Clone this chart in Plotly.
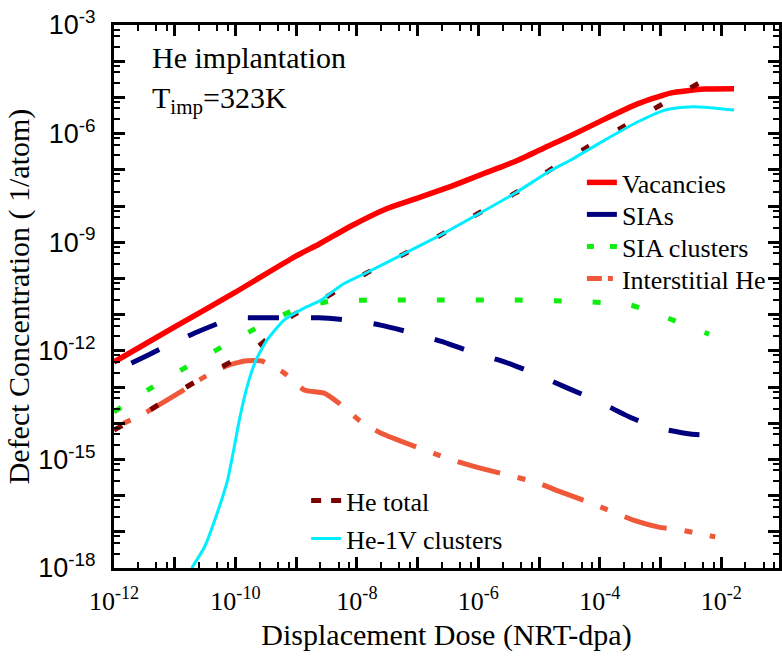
import plotly.graph_objects as go

# ---- data (log10 of dose in NRT-dpa, log10 of concentration in 1/atom) ----
vac_lx = [-12, -11, -10, -9, -8.62, -8.08, -7.53, -6.98, -6.44, -5.89, -5.34, -4.85, -4.48, -3.92, -3.38, -2.84, -2.28, -1.79]
vac_ly = [-12.31, -11.34, -10.38, -9.38, -9.05, -8.54, -8.09, -7.77, -7.45, -7.09, -6.73, -6.34, -6.06, -5.60, -5.18, -4.88, -4.77, -4.76]

sia_lx = [-12, -11.71, -11.20, -10.67, -10.21, -9.93, -9.66, -9.16, -8.62, -8.13, -7.61, -7.15, -6.57, -6.12, -5.56, -5.10, -4.53, -4.07, -3.51, -3.05, -2.51, -2.02]
sia_ly = [-12.56, -12.34, -11.92, -11.51, -11.20, -11.09, -11.09, -11.09, -11.09, -11.15, -11.29, -11.48, -11.76, -12.03, -12.31, -12.61, -13.03, -13.36, -13.83, -14.13, -14.30, -14.35]

siac_lx = [-12, -11.44, -10.84, -10.23, -9.62, -9.0, -8.41, -7.79, -6.57, -5.36, -4.74, -4.13, -3.51, -2.92, -2.30, -2.20]
siac_ly = [-13.69, -13.08, -12.48, -11.90, -11.34, -10.85, -10.62, -10.60, -10.60, -10.60, -10.62, -10.65, -10.73, -11.07, -11.48, -11.54]

ihe_lx = [-12, -11.46, -10.80, -10.51, -10.15, -9.85, -9.57, -9.20, -8.87, -8.54, -8.30, -7.97, -7.61, -6.71, -6.33, -5.97, -5.02, -4.69, -4.33, -3.95, -3.41, -3.03, -2.67, -2.10]
ihe_ly = [-14.13, -13.69, -13.03, -12.72, -12.42, -12.28, -12.28, -12.61, -13.08, -13.17, -13.44, -13.91, -14.27, -14.85, -15.07, -15.24, -15.65, -15.87, -16.09, -16.34, -16.70, -16.87, -16.95, -17.14]

het_lx = [-12, -11.46, -10.84, -10.23, -9.62, -9.07, -8.59, -7.84, -7.23, -6.62, -6.02, -5.39, -4.80, -4.20, -3.59, -2.97, -2.31]
het_ly = [-14.19, -13.69, -13.03, -12.45, -11.87, -11.04, -10.60, -9.85, -9.33, -8.80, -8.22, -7.64, -6.98, -6.37, -5.79, -5.18, -4.55]

he1v_lx = [-10.72, -10.51, -10.30, -10.13, -10.02, -9.93, -9.80, -9.66, -9.48, -9.20, -8.87, -8.59, -8.25, -7.85, -7.26, -6.62, -6.03, -5.39, -4.85, -4.48, -3.92, -3.38, -2.93, -2.61, -2.28, -1.79]
he1v_ly = [-18.0, -17.42, -16.48, -15.57, -14.66, -13.86, -12.94, -12.25, -11.70, -11.15, -10.82, -10.60, -10.18, -9.85, -9.35, -8.80, -8.25, -7.64, -7.06, -6.73, -6.18, -5.68, -5.35, -5.27, -5.27, -5.35]

x_label_exponents = [-12, -10, -8, -6, -4, -2]
x_other_exponents = [-11, -9, -7, -5, -3]
y_label_exponents = [-18, -15, -12, -9, -6, -3]
y_other_exponents = [-17, -16, -14, -13, -11, -10, -8, -7, -5, -4]
minor_mult = [2.5, 5, 7.5]


def pw(a):
    return [10.0 ** v for v in a]


series = [
    # name, lx, ly, color, width, plot dash, legend dash
    ("Vacancies", vac_lx, vac_ly, "#ff0000", 5.5, "solid", "solid"),
    ("SIAs", sia_lx, sia_ly, "#00007f", 5, "0px,19px,31px,13px", "30px,10px"),
    ("SIA clusters", siac_lx, siac_ly, "#10ee10", 5, "8px,31px", "7px,16px"),
    ("Interstitial He", ihe_lx, ihe_ly, "#f0583a", 5, "0px,10px,8px,18px,44px,8px", "15px,6px,5px,4px"),
    ("He total", het_lx, het_ly, "#7b0000", 5, "9px,33px", "10px,10px"),
    ("He-1V clusters", he1v_lx, he1v_ly, "#00eeff", 3, "solid", "solid"),
]
# legend placement: (text left pixel, row centre pixel)
legend_pos = [(622, 182), (622, 214), (622, 246), (622, 278), (345, 500), (345, 538)]

fig = go.Figure()
for name, lx, ly, col, w, dash, ldash in series:
    fig.add_trace(go.Scatter(x=pw(lx), y=pw(ly), mode="lines", name=name,
                             line=dict(color=col, width=w, dash=dash, shape="spline", smoothing=0.5),
                             showlegend=False, hoverinfo="skip"))

serif = "Liberation Serif"
sans = "Liberation Sans"
legends = {}
for i, (name, lx, ly, col, w, dash, ldash) in enumerate(series):
    key = "legend" if i == 0 else f"legend{i + 1}"
    fig.add_trace(go.Scatter(x=[None], y=[None], mode="lines", name=name, xaxis="x2", yaxis="y2",
                             line=dict(color=col, width=w, dash=ldash),
                             legend=key, showlegend=True))
    tx, yc = legend_pos[i]
    legends[key] = dict(x=(tx - 38 - 114) / 668, y=1 - (yc - 23 - 25) / 543, xanchor="left", yanchor="top",
                        bgcolor="rgba(0,0,0,0)", font=dict(family=serif, size=26, color="black"), itemwidth=30)

axis_common = dict(ticks="inside", ticklen=11, tickwidth=2.5, tickcolor="black",
                   showline=True, linewidth=3, linecolor="black", mirror="ticks",
                   showgrid=False, zeroline=False)

fig.update_layout(
    width=782, height=657,
    margin=dict(l=114, r=0, t=25, b=89),
    paper_bgcolor="white", plot_bgcolor="white",
    xaxis=dict(
        type="log", range=[-12, -1.05],
        tickmode="array", tickvals=pw(x_label_exponents),
        ticktext=[f"10<sup>{k}</sup>" for k in x_label_exponents],
        tickfont=dict(family=serif, size=26, color="black"),
        ticklabelstandoff=8,
        minor=dict(tickmode="array", tickvals=[m * 10.0 ** k for k in range(-12, -1) for m in minor_mult],
                   ticks="inside", ticklen=6, tickwidth=2, tickcolor="black", showgrid=False),
        title=dict(text="Displacement Dose (NRT-dpa)", font=dict(family=serif, size=30, color="black"), standoff=9),
        **axis_common,
    ),
    yaxis=dict(
        type="log", range=[-18, -3],
        tickmode="array", tickvals=pw(y_label_exponents),
        ticktext=[f"10<sup>{k}</sup>" for k in y_label_exponents],
        tickfont=dict(family=sans, size=27, color="black"),
        ticklabelstandoff=10,
        minor=dict(tickmode="array", tickvals=[m * 10.0 ** k for k in range(-18, -2) for m in minor_mult],
                   ticks="inside", ticklen=6, tickwidth=2, tickcolor="black", showgrid=False),
        title=dict(text="Defect Concentration ( 1/atom)", font=dict(family=serif, size=30, color="black"), standoff=0),
        **axis_common,
    ),
    xaxis2=dict(type="log", range=[-12, -1.05], overlaying="x", anchor="y2", side="bottom",
                tickmode="array", tickvals=pw(x_other_exponents), showticklabels=False, **axis_common),
    yaxis2=dict(type="log", range=[-18, -3], overlaying="y", anchor="x2", side="left",
                tickmode="array", tickvals=pw(y_other_exponents), showticklabels=False, **axis_common),
    annotations=[
        dict(text="He implantation", xref="paper", yref="paper", x=(150 - 114) / 668, y=1 - (58 - 25) / 543,
             xanchor="left", yanchor="middle", showarrow=False, font=dict(family=serif, size=30, color="black")),
        dict(text="T<sub>imp</sub>=323K", xref="paper", yref="paper", x=(150 - 114) / 668, y=1 - (100 - 25) / 543,
             xanchor="left", yanchor="middle", showarrow=False, font=dict(family=serif, size=30, color="black")),
    ],
    **legends,
)

fig.write_html("out.html")
